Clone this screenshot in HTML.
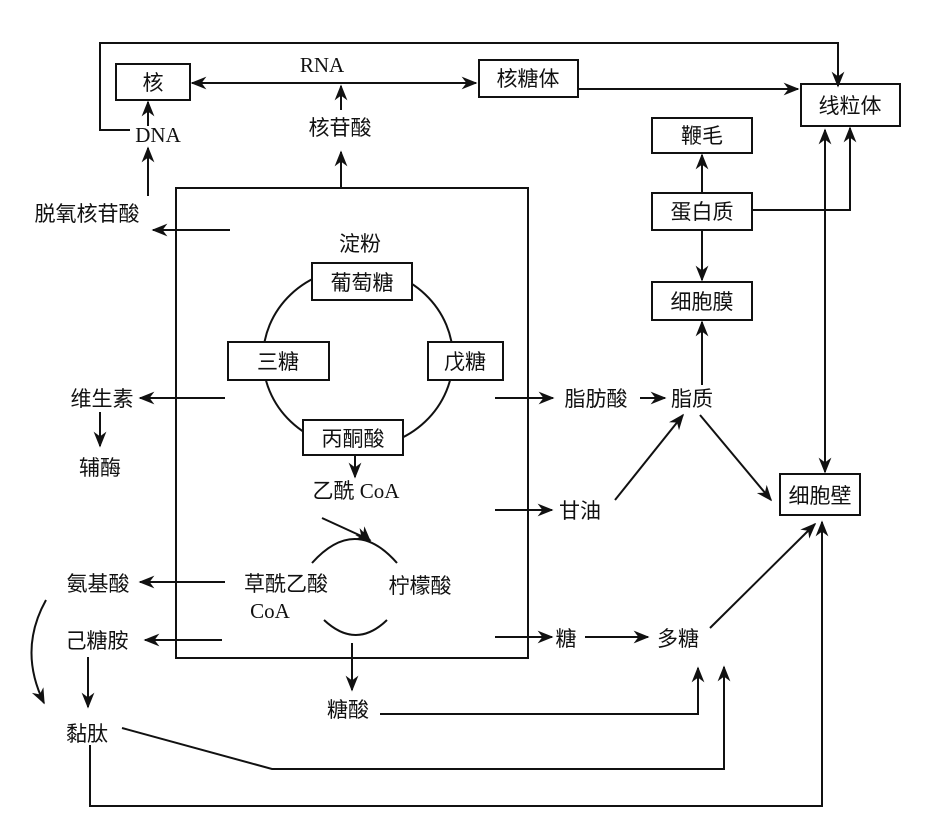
<!DOCTYPE html>
<html><head><meta charset="utf-8"><style>
html,body{margin:0;padding:0;background:#fff}
svg{display:block}
text{font-family:"Liberation Serif","Noto Sans CJK SC",serif;font-size:21px;fill:#111}
</style></head><body>
<svg width="927" height="835" viewBox="0 0 927 835" xmlns="http://www.w3.org/2000/svg">
<defs><marker id="a" viewBox="0 0 10 10" refX="9" refY="5" markerWidth="8" markerHeight="8" orient="auto-start-reverse"><path d="M0,1 L10,5 L0,9 L3,5 z" fill="#111"/></marker></defs>
<g stroke="#111" stroke-width="2" fill="none">
<polyline points="130,130 100,130 100,43 838,43 838,86" marker-end="url(#a)"/>
<rect x="116" y="64" width="74" height="36"/>
<line x1="192" y1="83" x2="476" y2="83" marker-start="url(#a)" marker-end="url(#a)"/>
<rect x="479" y="60" width="99" height="37"/>
<line x1="578" y1="89" x2="798" y2="89" marker-end="url(#a)"/>
<rect x="801" y="84" width="99" height="42"/>
<line x1="341" y1="110" x2="341" y2="86" marker-end="url(#a)"/>
<line x1="341" y1="188" x2="341" y2="152" marker-end="url(#a)"/>
<line x1="148" y1="126" x2="148" y2="102" marker-end="url(#a)"/>
<line x1="148" y1="196" x2="148" y2="148" marker-end="url(#a)"/>
<line x1="230" y1="230" x2="153" y2="230" marker-end="url(#a)"/>
<rect x="176" y="188" width="352" height="470"/>
<ellipse cx="358" cy="358" rx="95" ry="90"/>
<path d="M312,563 Q355,515 397,563"/>
<path d="M366,537 l4,4" marker-end="url(#a)"/>
<path d="M324,620 Q356,650 387,620"/>
<line x1="355" y1="455" x2="355" y2="477" marker-end="url(#a)"/>
<line x1="322" y1="518" x2="370" y2="540" marker-end="url(#a)"/>
<line x1="225" y1="398" x2="140" y2="398" marker-end="url(#a)"/>
<line x1="100" y1="412" x2="100" y2="446" marker-end="url(#a)"/>
<line x1="225" y1="582" x2="140" y2="582" marker-end="url(#a)"/>
<line x1="222" y1="640" x2="145" y2="640" marker-end="url(#a)"/>
<path d="M46,600 Q18,650 44,703" marker-end="url(#a)"/>
<line x1="88" y1="657" x2="88" y2="707" marker-end="url(#a)"/>
<polyline points="122,728 272,769 724,769 724,667" marker-end="url(#a)"/>
<polyline points="90,745 90,806 822,806 822,522" marker-end="url(#a)"/>
<line x1="352" y1="643" x2="352" y2="690" marker-end="url(#a)"/>
<polyline points="380,714 698,714 698,668" marker-end="url(#a)"/>
<line x1="495" y1="398" x2="553" y2="398" marker-end="url(#a)"/>
<line x1="640" y1="398" x2="665" y2="398" marker-end="url(#a)"/>
<line x1="495" y1="510" x2="552" y2="510" marker-end="url(#a)"/>
<line x1="615" y1="500" x2="683" y2="415" marker-end="url(#a)"/>
<line x1="495" y1="637" x2="552" y2="637" marker-end="url(#a)"/>
<line x1="585" y1="637" x2="648" y2="637" marker-end="url(#a)"/>
<line x1="710" y1="628" x2="815" y2="524" marker-end="url(#a)"/>
<line x1="700" y1="415" x2="771" y2="500" marker-end="url(#a)"/>
<rect x="780" y="474" width="80" height="41"/>
<rect x="652" y="282" width="100" height="38"/>
<rect x="652" y="193" width="100" height="37"/>
<rect x="652" y="118" width="100" height="35"/>
<line x1="702" y1="193" x2="702" y2="155" marker-end="url(#a)"/>
<line x1="702" y1="230" x2="702" y2="280" marker-end="url(#a)"/>
<line x1="702" y1="385" x2="702" y2="322" marker-end="url(#a)"/>
<polyline points="752,210 850,210 850,128" marker-end="url(#a)"/>
<line x1="825" y1="130" x2="825" y2="472" marker-start="url(#a)" marker-end="url(#a)"/>
</g>
<g fill="#fff" stroke="#111" stroke-width="2">
<rect x="312" y="263" width="100" height="37"/>
<rect x="228" y="342" width="101" height="38"/>
<rect x="428" y="342" width="75" height="38"/>
<rect x="303" y="420" width="100" height="35"/>
</g>
<g text-anchor="middle">
<text x="153" y="90">核</text>
<text x="322" y="72">RNA</text>
<text x="528" y="86">核糖体</text>
<text x="850" y="113">线粒体</text>
<text x="340" y="135">核苷酸</text>
<text x="158" y="142">DNA</text>
<text x="87" y="221">脱氧核苷酸</text>
<text x="702" y="143">鞭毛</text>
<text x="702" y="219">蛋白质</text>
<text x="360" y="251">淀粉</text>
<text x="362" y="290">葡萄糖</text>
<text x="278" y="369">三糖</text>
<text x="465" y="369">戊糖</text>
<text x="702" y="309">细胞膜</text>
<text x="102" y="406">维生素</text>
<text x="100" y="475">辅酶</text>
<text x="353" y="446">丙酮酸</text>
<text x="356" y="498">乙酰 CoA</text>
<text x="596" y="406">脂肪酸</text>
<text x="692" y="406">脂质</text>
<text x="580" y="518">甘油</text>
<text x="820" y="503">细胞壁</text>
<text x="98" y="591">氨基酸</text>
<text x="286" y="591">草酰乙酸</text>
<text x="270" y="618">CoA</text>
<text x="420" y="593">柠檬酸</text>
<text x="97" y="648">己糖胺</text>
<text x="566" y="646">糖</text>
<text x="678" y="646">多糖</text>
<text x="348" y="717">糖酸</text>
<text x="87" y="741">黏肽</text>
</g>
</svg>
</body></html>
